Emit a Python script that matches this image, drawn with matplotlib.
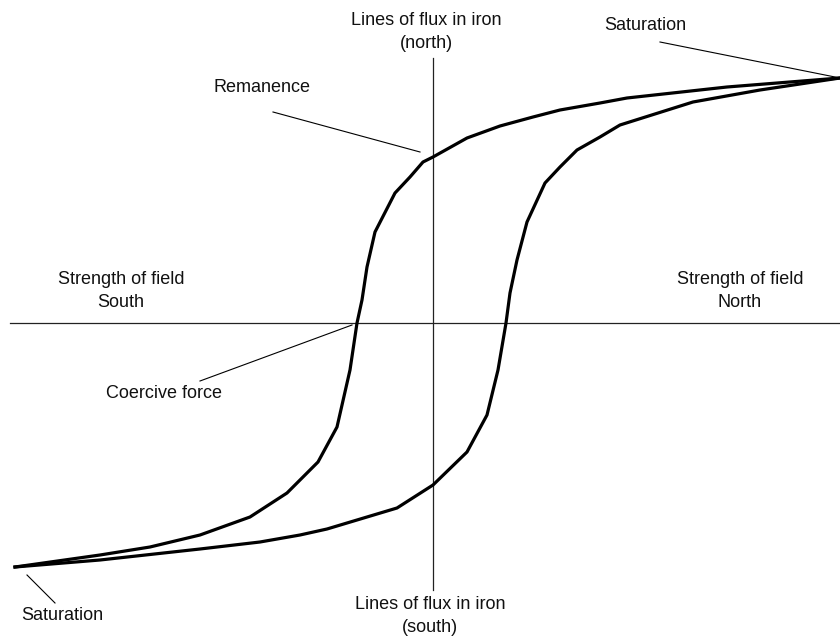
import matplotlib
matplotlib.use("Agg")
from matplotlib import pyplot as plt

# hysteresis loop (origin = where the two axes cross)
# upper branch: saturation (north) -> remanence -> coercive force -> saturation (south)
upper_x = [407, 294, 194, 167, 127, 100, 67, 34, 0, -10, -23, -38, -58, -66,
           -71, -76, -83, -96, -115, -146, -183, -233, -283, -333, -418]
upper_y = [245, 236, 225, 220, 213, 206, 197, 185, 166, 161, 146, 130, 91, 56,
           23, 0, -47, -104, -139, -170, -194, -212, -224, -232, -244]

# lower branch: saturation (south) -> back up to saturation (north)
lower_x = [-418, -333, -233, -173, -133, -106, -36, 0, 34, 54, 65, 73,
           77, 84, 94, 112, 127, 144, 167, 187, 260, 327, 407]
lower_y = [-244, -237, -226, -219, -212, -206, -185, -162, -129, -92, -47, 0,
           30, 63, 101, 140, 156, 173, 186, 198, 221, 233, 245]

# labels: (text, x, y)
labels = [
    ("Lines of flux in iron\n(north)", -7, 291),
    ("Saturation", 212, 297),
    ("Remanence", -171, 235),
    ("Strength of field\nSouth", -312, 32),
    ("Strength of field\nNorth", 307, 32),
    ("Coercive force", -269, -70),
    ("Saturation", -371, -292),
    ("Lines of flux in iron\n(south)", -3, -293),
]

# leader lines from label to point on the loop
leaders = [
    ((227, 281), (407, 245)),
    ((-160, 211), (-13, 171)),
    ((-233, -58), (-81, -2)),
    ((-406, -252), (-378, -280)),
]

fig = plt.figure(figsize=(8.4, 6.38), dpi=100)
ax = fig.add_axes([0, 0, 1, 1])
ax.set_xlim(-433, 407)
ax.set_ylim(-315, 323)
ax.axis('off')

# axes
ax.plot([-423, 407], [0, 0], color='#222222', lw=0.9)
ax.plot([0, 0], [-267, 265], color='#222222', lw=0.9)

ax.plot(upper_x, upper_y, color='black', lw=2.3)
ax.plot(lower_x, lower_y, color='black', lw=2.3)

for (x0, y0), (x1, y1) in leaders:
    ax.plot([x0, x1], [y0, y1], color='black', lw=0.8)

for txt, x, y in labels:
    ax.text(x, y, txt, ha='center', va='center', fontsize=13,
            family='Liberation Sans', color='#111111', linespacing=1.4)

fig.savefig("out.png", dpi=100)
